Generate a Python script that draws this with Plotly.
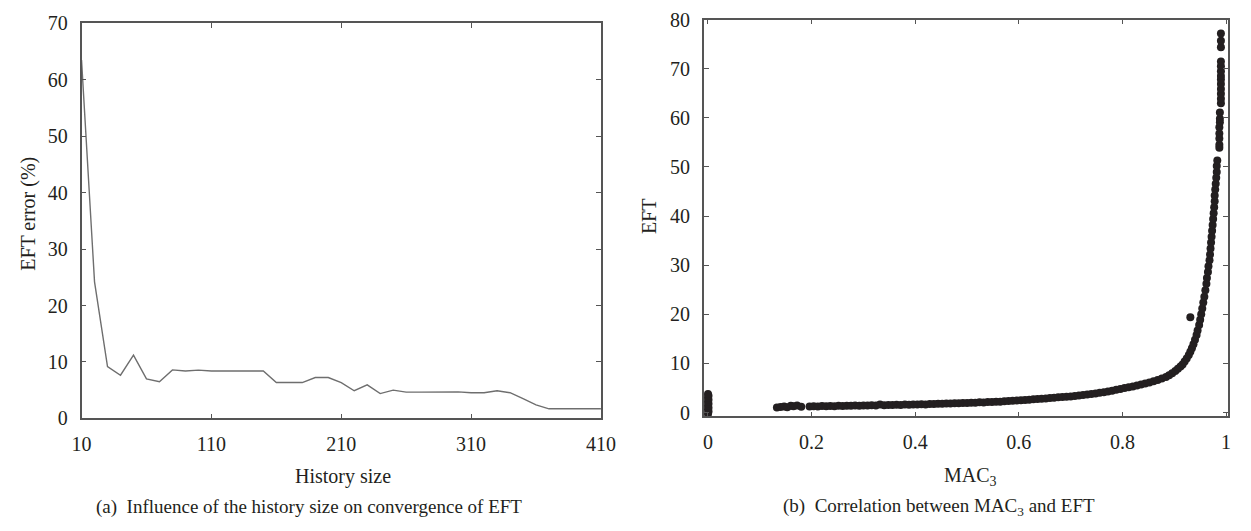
import plotly.graph_objects as go

# ---------- Data: (a) history size vs EFT error ----------
history_size = [10, 20, 30, 40, 50, 60, 70, 80, 90, 100, 110, 120, 130, 140, 150,
                160, 170, 180, 190, 200, 210, 220, 230, 240, 250, 260, 270, 280,
                290, 300, 310, 320, 330, 340, 350, 360, 370, 380, 390, 400, 410]
eft_error = [63.5, 24.2, 9.2, 7.65, 11.2, 7.0, 6.5, 8.6, 8.4, 8.55, 8.4, 8.4, 8.4, 8.4, 8.4,
             6.35, 6.35, 6.35, 7.25, 7.25, 6.35, 4.9, 5.95, 4.4, 5.0, 4.65, 4.65, 4.65,
             4.7, 4.7, 4.55, 4.55, 4.9, 4.55, 3.5, 2.4, 1.7, 1.7, 1.7, 1.7, 1.7]

# ---------- Data: (b) MAC3 vs EFT ----------
zero_mac = [0.0, 0.001, 0.0, 0.001, 0.0, 0.001, 0.0, 0.001, 0.0, 0.001, 0.0]
zero_eft = [-0.3, 0.2, 0.6, 1.0, 1.4, 1.8, 2.2, 2.6, 3.0, 3.4, 3.8]

cluster_mac = [0.133, 0.140, 0.147, 0.153, 0.160, 0.165, 0.172, 0.180]
cluster_eft = [1.05, 1.15, 1.25, 1.10, 1.40, 1.30, 1.45, 1.20]

band_mac = [0.196, 0.204, 0.212, 0.220, 0.228, 0.236, 0.244, 0.252, 0.260, 0.268,
            0.276, 0.284, 0.292, 0.300, 0.308, 0.316, 0.324, 0.332, 0.340, 0.348,
            0.356, 0.364, 0.372, 0.380, 0.388, 0.396, 0.404, 0.412, 0.420, 0.428,
            0.436, 0.444, 0.452, 0.460, 0.468, 0.476, 0.484, 0.492, 0.500, 0.508,
            0.516, 0.524, 0.532, 0.540, 0.548, 0.556, 0.564, 0.572, 0.580, 0.588,
            0.596, 0.604, 0.612, 0.620, 0.628, 0.636, 0.644, 0.652, 0.660, 0.668,
            0.676, 0.684, 0.692, 0.700, 0.708, 0.716, 0.724, 0.732, 0.740, 0.748,
            0.756, 0.764, 0.772, 0.780, 0.788, 0.796,
            0.804, 0.812, 0.820, 0.828, 0.836, 0.844, 0.852, 0.860, 0.868, 0.876,
            0.884, 0.890, 0.896, 0.902, 0.907, 0.912, 0.916, 0.920, 0.924, 0.928,
            0.931, 0.934, 0.937, 0.940, 0.943, 0.945, 0.948, 0.950, 0.952, 0.954,
            0.956, 0.958, 0.960, 0.962, 0.963, 0.965, 0.966, 0.968, 0.969, 0.970,
            0.971, 0.972, 0.973, 0.974, 0.975, 0.976, 0.977, 0.978, 0.978, 0.979,
            0.980, 0.981, 0.982, 0.982, 0.983]
band_eft = [1.25, 1.30, 1.22, 1.32, 1.28, 1.35, 1.30, 1.38, 1.33, 1.40,
            1.36, 1.42, 1.38, 1.45, 1.41, 1.48, 1.44, 1.62, 1.50, 1.55,
            1.52, 1.58, 1.55, 1.62, 1.58, 1.66, 1.62, 1.70, 1.66, 1.75,
            1.72, 1.80, 1.77, 1.85, 1.82, 1.90, 1.88, 1.96, 1.94, 2.02,
            2.00, 2.08, 2.06, 2.15, 2.13, 2.22, 2.20, 2.30, 2.36, 2.40,
            2.45, 2.52, 2.58, 2.62, 2.70, 2.76, 2.82, 2.88, 2.95, 3.02,
            3.10, 3.18, 3.22, 3.27, 3.36, 3.46, 3.56, 3.67, 3.78, 3.90,
            4.02, 4.15, 4.30, 4.45, 4.62, 4.80,
            5.0, 5.15, 5.30, 5.50, 5.70, 5.90, 6.10, 6.35, 6.65, 6.95,
            7.25, 7.60, 8.00, 8.45, 8.90, 9.40, 9.80, 10.4, 11.0, 11.7,
            12.4, 13.1, 13.9, 14.8, 15.8, 16.7, 17.8, 18.9, 20.0, 21.2,
            22.4, 23.6, 24.9, 26.2, 27.4, 28.6, 29.8, 31.0, 32.2, 33.4,
            34.6, 35.8, 37.0, 38.2, 39.4, 40.6, 41.8, 43.0, 44.2, 45.4,
            46.6, 47.8, 49.0, 50.2, 51.3]

top_mac = [0.987, 0.987, 0.987, 0.987, 0.987, 0.988, 0.988, 0.988, 0.990, 0.990,
           0.990, 0.990, 0.990, 0.990, 0.990, 0.990, 0.990, 0.990, 0.990, 0.990, 0.990]
top_eft = [53.9, 54.5, 55.8, 56.8, 58.1, 59.1, 59.8, 61.1, 63.0, 63.9,
           64.9, 65.9, 66.9, 67.8, 68.5, 69.5, 70.5, 71.5, 74.4, 75.7, 77.2]

outlier_mac = [0.931]
outlier_eft = [19.4]

mac_all = zero_mac + cluster_mac + band_mac + top_mac + outlier_mac
eft_all = zero_eft + cluster_eft + band_eft + top_eft + outlier_eft

left_xticks = [10, 110, 210, 310, 410]
left_yticks = [0, 10, 20, 30, 40, 50, 60, 70]
right_xticks = [0, 0.2, 0.4, 0.6, 0.8, 1]
right_xticktext = ["0", "0.2", "0.4", "0.6", "0.8", "1"]
right_yticks = [0, 10, 20, 30, 40, 50, 60, 70, 80]

FONT = "Liberation Serif"
AX = "#555555"
TXT = "#231f20"

fig = go.Figure()
fig.add_trace(go.Scatter(x=history_size, y=eft_error, mode="lines",
                         line=dict(color="#6e6e6e", width=1.4),
                         xaxis="x", yaxis="y", showlegend=False, hoverinfo="skip"))
fig.add_trace(go.Scatter(x=mac_all, y=eft_all, mode="markers",
                         marker=dict(color="#231f20", size=8),
                         xaxis="x2", yaxis="y2", showlegend=False, hoverinfo="skip"))

axis_common = dict(showgrid=False, zeroline=False, showline=True, linecolor=AX,
                   linewidth=1.5, mirror="ticks", ticks="inside", ticklen=5,
                   tickcolor=AX, tickwidth=1.2,
                   tickfont=dict(family=FONT, size=20, color=TXT))

fig.update_layout(
    width=1251, height=531,
    margin=dict(l=0, r=0, t=0, b=0),
    paper_bgcolor="white", plot_bgcolor="white",
    xaxis=dict(domain=[73/1251, 603/1251], range=[10, 410], tickvals=left_xticks,
               anchor="y", ticklabelstandoff=7, **axis_common),
    yaxis=dict(domain=[(531-425)/531, (531-13)/531], range=[0, 70], tickvals=left_yticks,
               anchor="x", ticklabelstandoff=8, **axis_common),
    xaxis2=dict(domain=[708/1251, 1243/1251], range=[-0.008, 1.004], tickvals=right_xticks,
                ticktext=right_xticktext, anchor="y2", ticklabelstandoff=7, **axis_common),
    yaxis2=dict(domain=[(531-423)/531, (531-9)/531], range=[-0.8, 80], tickvals=right_yticks,
                anchor="x2", ticklabelstandoff=8, **axis_common),
)

ann_font = dict(family=FONT, size=20, color=TXT)
cap_font = dict(family=FONT, size=19, color=TXT)
labels = [
    ("EFT error (%)", 19, 212, -90, ann_font),
    ("History size", 340, 486, 0, ann_font),
    ("(a)  Influence of the history size on convergence of EFT", 305, 517, 0, cap_font),
    ("EFT", 652, 214, -90, ann_font),
    ("MAC<sub>3</sub>", 980, 486, 0, ann_font),
    ("(b)  Correlation between MAC<sub>3</sub> and EFT", 948, 517, 0, cap_font),
]
for text, px, py, ang, fnt in labels:
    fig.add_annotation(text=text, x=px / 1251, y=1 - py / 531, xref="paper", yref="paper",
                       xanchor="center", yanchor="middle", showarrow=False,
                       textangle=ang, font=fnt)

fig.write_html("out.html")
